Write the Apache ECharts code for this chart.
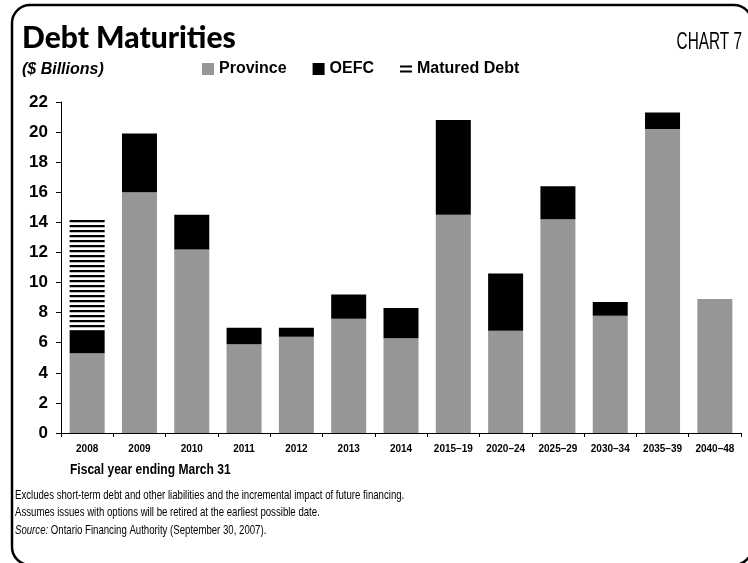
<!DOCTYPE html>
<html>
<head>
<meta charset="utf-8">
<script src="https://cdn.jsdelivr.net/npm/echarts@6/dist/echarts.min.js"></script>
<style>
  html, body { margin: 0; padding: 0; background: #fff; }
  #chart { width: 748px; height: 563px; }
</style>
</head>
<body>
<div id="chart"></div>
<script>
// Fiscal years / periods
const categories = ['2008', '2009', '2010', '2011', '2012', '2013', '2014',
  '2015–19', '2020–24', '2025–29', '2030–34', '2035–39', '2040–48'];
// $ billions
const province = [5.3, 16.0, 12.2, 5.9, 6.4, 7.6, 6.3, 14.5, 6.8, 14.2, 7.8, 20.2, 8.9];
const oefc = [1.5, 3.9, 2.3, 1.1, 0.6, 1.6, 2.0, 6.3, 3.8, 2.2, 0.9, 1.1, 0];
const maturedDebt = [7.4, null, null, null, null, null, null, null, null, null, null, null, null];
const yTicks = { min: 0, max: 22, interval: 2 };

const footnotes = [
  'Excludes short-term debt and other liabilities and the incremental impact of future financing.',
  'Assumes issues with options will be retired at the earliest possible date.'
];

// Horizontal stripe fill for matured debt
function stripePattern() {
  const c = document.createElement('canvas');
  c.width = 8; c.height = 5;
  const g = c.getContext('2d');
  g.fillStyle = '#ffffff'; g.fillRect(0, 0, 8, 5);
  g.fillStyle = '#000000'; g.fillRect(0, 0, 8, 2);
  g.fillStyle = '#bdbdbd'; g.fillRect(0, 2, 8, 1);
  return c;
}

const GRAY = '#969696';
const sans = "'Liberation Sans', Arial, sans-serif";

// Condensed text: regular face squeezed horizontally
function narrowText(x, y, text, font, sx, extra) {
  return {
    type: 'text', x: x, y: y, scaleX: sx, silent: true,
    style: Object.assign({ text: text, font: font, fill: '#000', verticalAlign: 'top' }, extra || {})
  };
}

const chart = echarts.init(document.getElementById('chart'), null, { renderer: 'canvas' });

chart.setOption({
  animation: false,
  backgroundColor: '#ffffff',
  grid: { left: 61, right: 7, top: 102, bottom: 130, containLabel: false },
  legend: {
    left: 202, top: 61, padding: 0,
    itemWidth: 12, itemHeight: 12, itemGap: 26,
    selectedMode: false,
    textStyle: { fontFamily: sans, fontWeight: 'bold', fontSize: 16, color: '#000' },
    data: [
      { name: 'Province', icon: 'rect', itemStyle: { color: GRAY } },
      { name: 'OEFC', icon: 'rect', itemStyle: { color: '#000' } },
      { name: 'Matured Debt', icon: 'path://M0,0H12V2.2H0Z M0,5H12V7.2H0Z', itemStyle: { color: '#000' } }
    ]
  },
  xAxis: {
    type: 'category',
    data: categories,
    boundaryGap: true,
    axisLine: { show: true, lineStyle: { color: '#000', width: 1 } },
    axisTick: { show: true, length: 4, alignWithLabel: false, lineStyle: { color: '#000' } },
    axisLabel: { fontFamily: sans, fontWeight: 'bold', fontSize: 10, color: '#000', margin: 11 },
    splitLine: { show: false }
  },
  yAxis: {
    type: 'value',
    min: yTicks.min, max: yTicks.max, interval: yTicks.interval,
    axisLine: { show: true, lineStyle: { color: '#000', width: 1 } },
    axisTick: { show: true, length: 5, lineStyle: { color: '#000' } },
    axisLabel: { fontFamily: sans, fontWeight: 'bold', fontSize: 17, color: '#000', margin: 13 },
    splitLine: { show: false }
  },
  series: [
    {
      name: 'Province', type: 'bar', stack: 'debt', data: province,
      barWidth: 35, itemStyle: { color: GRAY }
    },
    {
      name: 'OEFC', type: 'bar', stack: 'debt', data: oefc,
      barWidth: 35, itemStyle: { color: '#000' }
    },
    {
      name: 'Matured Debt', type: 'bar', stack: 'debt', data: maturedDebt,
      barWidth: 35, itemStyle: { color: { image: stripePattern(), repeat: 'repeat' } }
    }
  ],
  graphic: [
    {
      type: 'rect', silent: true,
      shape: { x: 12, y: 5, width: 740, height: 560, r: 18 },
      style: { fill: 'none', stroke: '#000', lineWidth: 2.5 }
    },
    {
      type: 'text', x: 22, y: 23, silent: true,
      style: { text: 'Debt Maturities', font: "900 30px Lato, 'Open Sans', sans-serif", fill: '#000', verticalAlign: 'top' }
    },
    narrowText(742, 30, 'CHART 7', "24px " + sans, 0.64, { align: 'right' }),
    {
      type: 'text', x: 22, y: 62, silent: true,
      style: { text: '($ Billions)', font: "italic bold 16px " + sans, fill: '#000', verticalAlign: 'top' }
    },
    narrowText(70, 463, 'Fiscal year ending March 31', "bold 14px " + sans, 0.86),
    narrowText(15, 489, footnotes[0], "13px " + sans, 0.74),
    narrowText(15, 506, footnotes[1], "13px " + sans, 0.74),
    narrowText(15, 524, '{i|Source:} Ontario Financing Authority (September 30, 2007).', "13px " + sans, 0.74, {
      rich: { i: { fontStyle: 'italic', fontFamily: sans, fontSize: 13 } }
    })
  ]
});
</script>
</body>
</html>
